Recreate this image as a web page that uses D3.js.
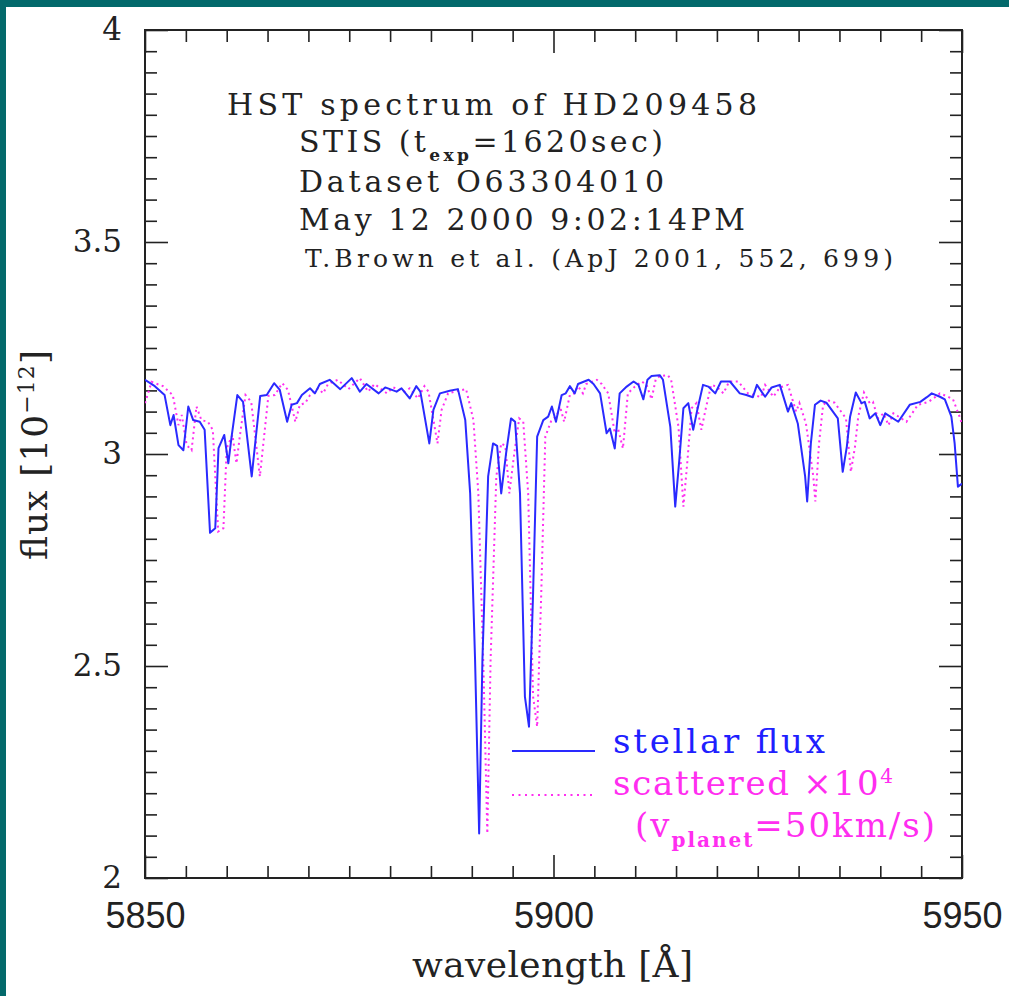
<!DOCTYPE html>
<html>
<head>
<meta charset="utf-8">
<script src="https://cdn.jsdelivr.net/npm/d3@7"></script>
<style>
	html, body { margin: 0; padding: 0; background: #03696b; }
	svg { display: block; }
</style>
</head>
<body>
<svg></svg>
<script>
// HST STIS spectrum of HD209458 around the Na D lines

// Axis ticks
const xMajor = [5850, 5900, 5950];
const xMinor = [5855, 5860, 5865, 5870, 5875, 5880, 5885, 5890, 5895, 5905, 5910, 5915, 5920, 5925, 5930, 5935, 5940, 5945];
const yMajor = [2, 2.5, 3, 3.5, 4];
const yTickLabels = ['2', '2.5', '3', '3.5', '4'];
const yMinor = [2.05, 2.1, 2.15, 2.2, 2.25, 2.3, 2.35, 2.4, 2.45, 2.55, 2.6, 2.65, 2.7, 2.75, 2.8, 2.85, 2.9, 2.95,
	3.05, 3.1, 3.15, 3.2, 3.25, 3.3, 3.35, 3.4, 3.45, 3.55, 3.6, 3.65, 3.7, 3.75, 3.8, 3.85, 3.9, 3.95];

// Stellar flux (blue solid line)
const stellarWave = [
	5850.0, 5851.2, 5852.4, 5853.1, 5853.5, 5854.1, 5854.7, 5855.3, 5855.9, 5856.7,
	5857.3, 5857.96, 5858.6, 5859.0, 5859.7, 5860.2, 5860.6, 5861.3, 5862.0, 5863.06,
	5864.1, 5864.9, 5865.8, 5866.5, 5867.4, 5867.95, 5868.6, 5869.2, 5870.2, 5870.8,
	5871.4, 5872.6, 5873.9, 5875.3, 5876.3, 5877.1, 5878.6, 5879.4, 5880.8, 5881.4,
	5882.4, 5883.2, 5883.7, 5884.8, 5885.3, 5886.1, 5887.3, 5888.3, 5889.2, 5889.8,
	5890.4, 5890.9, 5891.3, 5892.0, 5892.6, 5893.1, 5893.6, 5894.2, 5894.8, 5895.3,
	5895.9, 5896.5, 5897.0, 5897.5, 5898.0, 5898.75, 5899.35, 5899.8, 5900.3, 5901.0,
	5901.5, 5902.0, 5902.6, 5903.0, 5904.3, 5904.9, 5905.7, 5906.5, 5906.9, 5907.5,
	5908.1, 5908.96, 5909.8, 5910.4, 5911.0, 5911.5, 5912.0, 5913.0, 5913.4, 5914.3,
	5914.9, 5915.4, 5915.9, 5916.5, 5917.1, 5917.6, 5918.3, 5918.95, 5919.8, 5920.5,
	5921.6, 5922.8, 5923.6, 5924.4, 5924.9, 5925.9, 5926.7, 5927.7, 5928.7, 5929.1,
	5929.9, 5930.8, 5931.05, 5931.5, 5932.0, 5932.7, 5933.4, 5934.8, 5935.4, 5935.9,
	5936.3, 5937.0, 5937.7, 5938.1, 5938.7, 5939.4, 5940.0, 5940.6, 5942.2, 5943.6,
	5944.9, 5945.7, 5946.3, 5947.3, 5947.9, 5948.7, 5949.1, 5949.5, 5950.0
];
const stellarFlux = [
	3.175, 3.160, 3.139, 3.068, 3.092, 3.021, 3.009, 3.112, 3.080, 3.076,
	3.057, 2.814, 2.825, 3.014, 3.045, 2.978, 3.041, 3.139, 3.123, 2.947,
	3.137, 3.139, 3.167, 3.151, 3.076, 3.116, 3.120, 3.139, 3.155, 3.143,
	3.165, 3.175, 3.153, 3.179, 3.147, 3.165, 3.143, 3.157, 3.147, 3.155,
	3.131, 3.160, 3.147, 3.025, 3.104, 3.143, 3.149, 3.153, 3.080, 2.907,
	2.514, 2.105, 2.514, 2.947, 3.025, 3.019, 2.907, 3.002, 3.084, 3.076,
	2.907, 2.428, 2.357, 2.671, 3.041, 3.080, 3.088, 3.112, 3.076, 3.139,
	3.143, 3.160, 3.143, 3.165, 3.175, 3.165, 3.143, 3.049, 3.060, 3.013,
	3.143, 3.159, 3.171, 3.163, 3.129, 3.175, 3.184, 3.186, 3.175, 3.064,
	2.876, 2.986, 3.108, 3.120, 3.057, 3.104, 3.163, 3.159, 3.143, 3.171,
	3.171, 3.143, 3.139, 3.134, 3.163, 3.135, 3.157, 3.163, 3.100, 3.120,
	3.072, 2.947, 2.888, 3.025, 3.116, 3.126, 3.121, 3.084, 2.958, 3.017,
	3.088, 3.145, 3.120, 3.123, 3.084, 3.096, 3.068, 3.096, 3.076, 3.116,
	3.123, 3.134, 3.143, 3.135, 3.129, 3.088, 3.025, 2.923, 2.930
];

// Scattered light x10^4 (magenta dotted line), shifted by v_planet
const scatterWave = [
	5850.0, 5850.8, 5852.2, 5853.4, 5854.1, 5854.5, 5855.1, 5855.7, 5856.3, 5856.9,
	5857.7, 5858.3, 5858.96, 5859.6, 5860.0, 5860.7, 5861.2, 5861.6, 5862.3, 5863.0,
	5864.06, 5865.1, 5865.9, 5866.8, 5867.5, 5868.4, 5868.95, 5869.6, 5870.2, 5871.2,
	5871.8, 5872.4, 5873.6, 5874.9, 5876.3, 5877.3, 5878.1, 5879.6, 5880.4, 5881.8,
	5882.4, 5883.4, 5884.2, 5884.7, 5885.8, 5886.3, 5887.1, 5888.3, 5889.3, 5890.2,
	5890.8, 5891.4, 5891.9, 5892.3, 5893.0, 5893.6, 5894.1, 5894.6, 5895.2, 5895.8,
	5896.3, 5896.9, 5897.5, 5898.0, 5898.5, 5899.0, 5899.75, 5900.35, 5900.8, 5901.3,
	5902.0, 5902.5, 5903.0, 5903.6, 5904.0, 5905.3, 5905.9, 5906.7, 5907.5, 5907.9,
	5908.5, 5909.1, 5909.96, 5910.8, 5911.4, 5912.0, 5912.5, 5913.0, 5914.0, 5914.4,
	5915.3, 5915.9, 5916.4, 5916.9, 5917.5, 5918.1, 5918.6, 5919.3, 5919.95, 5920.8,
	5921.5, 5922.6, 5923.8, 5924.6, 5925.4, 5925.9, 5926.9, 5927.7, 5928.7, 5929.7,
	5930.1, 5930.9, 5931.8, 5932.05, 5932.5, 5933.0, 5933.7, 5934.4, 5935.8, 5936.4,
	5936.9, 5937.3, 5938.0, 5938.7, 5939.1, 5939.7, 5940.4, 5941.0, 5941.6, 5943.2,
	5944.6, 5945.9, 5946.7, 5947.3, 5948.3, 5948.9, 5949.7, 5950.0
];
const scatterFlux = [
	3.120, 3.170, 3.160, 3.139, 3.068, 3.092, 3.021, 3.009, 3.112, 3.080,
	3.076, 3.057, 2.817, 2.825, 3.014, 3.045, 2.978, 3.041, 3.139, 3.123,
	2.947, 3.137, 3.139, 3.167, 3.151, 3.076, 3.116, 3.120, 3.139, 3.155,
	3.143, 3.165, 3.175, 3.153, 3.179, 3.147, 3.165, 3.143, 3.157, 3.147,
	3.155, 3.131, 3.160, 3.147, 3.025, 3.104, 3.143, 3.149, 3.153, 3.080,
	2.907, 2.514, 2.105, 2.514, 2.947, 3.025, 3.019, 2.907, 3.002, 3.084,
	3.076, 2.907, 2.428, 2.357, 2.671, 3.041, 3.080, 3.088, 3.112, 3.076,
	3.139, 3.143, 3.160, 3.143, 3.165, 3.175, 3.165, 3.143, 3.049, 3.060,
	3.013, 3.143, 3.159, 3.171, 3.163, 3.129, 3.175, 3.184, 3.186, 3.175,
	3.064, 2.876, 2.986, 3.108, 3.120, 3.057, 3.104, 3.163, 3.159, 3.143,
	3.171, 3.171, 3.143, 3.139, 3.134, 3.163, 3.135, 3.157, 3.163, 3.100,
	3.120, 3.072, 2.947, 2.888, 3.025, 3.116, 3.126, 3.121, 3.084, 2.958,
	3.017, 3.088, 3.145, 3.120, 3.123, 3.084, 3.096, 3.068, 3.096, 3.076,
	3.116, 3.123, 3.134, 3.143, 3.135, 3.129, 3.088, 3.070
];

const width = 1009;
const height = 996;
const plot = { left: 145, right: 962, top: 30, bottom: 878 };

const blue = '#2a2aff';
const magenta = '#ff2ef0';
const serif = "'DejaVu Serif', serif";

const svg = d3.select('svg').attr('width', width).attr('height', height);

// teal frame on top and left, white page
svg.append('rect').attr('x', 6).attr('y', 7).attr('width', width - 6).attr('height', height - 7).attr('fill', '#fff');

const x = d3.scaleLinear().domain([5850, 5950]).range([plot.left, plot.right]);
const y = d3.scaleLinear().domain([2, 4]).range([plot.bottom, plot.top]);

svg.append('clipPath').attr('id', 'clip')
	.append('rect')
	.attr('x', plot.left).attr('y', plot.top)
	.attr('width', plot.right - plot.left).attr('height', plot.bottom - plot.top);

// ---------------- axes ----------------
function styleAxis(g) {
	g.select('.domain').remove();
	g.selectAll('.tick line').attr('stroke', '#222').attr('stroke-width', 1.6);
}

// x major ticks with labels
svg.append('g')
	.attr('transform', `translate(0,${plot.bottom})`)
	.call(d3.axisBottom(x).tickValues(xMajor).tickSize(-23).tickPadding(24).tickFormat(d3.format('d')))
	.call(styleAxis)
	.call((g) => g.selectAll('text')
		.attr('fill', '#222')
		.style('font-family', "'Liberation Sans', sans-serif")
		.style('font-size', '36px'));

svg.append('g')
	.attr('transform', `translate(0,${plot.bottom})`)
	.call(d3.axisBottom(x).tickValues(xMinor).tickSize(-12).tickFormat(''))
	.call(styleAxis);

svg.append('g')
	.attr('transform', `translate(0,${plot.top})`)
	.call(d3.axisTop(x).tickValues(xMajor).tickSize(-23).tickFormat(''))
	.call(styleAxis);

svg.append('g')
	.attr('transform', `translate(0,${plot.top})`)
	.call(d3.axisTop(x).tickValues(xMinor).tickSize(-12).tickFormat(''))
	.call(styleAxis);

// y major ticks with labels
svg.append('g')
	.attr('transform', `translate(${plot.left},0)`)
	.call(d3.axisLeft(y).tickValues(yMajor).tickSize(-23).tickPadding(23)
		.tickFormat((d, i) => yTickLabels[i]))
	.call(styleAxis)
	.call((g) => g.selectAll('text')
		.attr('fill', '#222')
		.style('font-family', serif)
		.style('font-size', '31px'));

svg.append('g')
	.attr('transform', `translate(${plot.left},0)`)
	.call(d3.axisLeft(y).tickValues(yMinor).tickSize(-12).tickFormat(''))
	.call(styleAxis);

svg.append('g')
	.attr('transform', `translate(${plot.right},0)`)
	.call(d3.axisRight(y).tickValues(yMajor).tickSize(-23).tickFormat(''))
	.call(styleAxis);

svg.append('g')
	.attr('transform', `translate(${plot.right},0)`)
	.call(d3.axisRight(y).tickValues(yMinor).tickSize(-12).tickFormat(''))
	.call(styleAxis);

// frame
svg.append('rect')
	.attr('x', plot.left).attr('y', plot.top)
	.attr('width', plot.right - plot.left).attr('height', plot.bottom - plot.top)
	.attr('fill', 'none').attr('stroke', '#222').attr('stroke-width', 2);

// ---------------- spectra ----------------
const lines = svg.append('g').attr('clip-path', 'url(#clip)');

const scatterLine = d3.line()
	.x((d, i) => x(scatterWave[i]))
	.y((d) => y(d));

const stellarLine = d3.line()
	.x((d, i) => x(stellarWave[i]))
	.y((d) => y(d));

lines.append('path')
	.datum(scatterFlux)
	.attr('d', scatterLine)
	.attr('fill', 'none')
	.attr('stroke', magenta)
	.attr('stroke-width', 2)
	.attr('stroke-dasharray', '2,3.5');

lines.append('path')
	.datum(stellarFlux)
	.attr('d', stellarLine)
	.attr('fill', 'none')
	.attr('stroke', blue)
	.attr('stroke-width', 2)
	.attr('stroke-linejoin', 'round');

// ---------------- axis titles ----------------
svg.append('text')
	.attr('x', 412).attr('y', 977)
	.attr('textLength', 281).attr('lengthAdjust', 'spacing')
	.attr('fill', '#222')
	.style('font-family', serif).style('font-size', '36px')
	.text('wavelength [Å]');

const ylab = svg.append('text')
	.attr('transform', 'translate(47,560) rotate(-90)')
	.attr('textLength', 210).attr('lengthAdjust', 'spacing')
	.attr('fill', '#222')
	.style('font-family', serif).style('font-size', '36px');
ylab.append('tspan').text('flux [10');
ylab.append('tspan').attr('dy', -13).style('font-size', '22px').text('−12');
ylab.append('tspan').attr('dy', 13).text(']');

// ---------------- annotation block ----------------
const note = svg.append('g').attr('fill', '#222').style('font-family', serif);

note.append('text').attr('x', 227).attr('y', 115)
	.attr('textLength', 530).attr('lengthAdjust', 'spacing')
	.style('font-size', '30px').text('HST spectrum of HD209458');

const stis = note.append('text').attr('x', 299).attr('y', 152)
	.attr('textLength', 364).attr('lengthAdjust', 'spacing')
	.style('font-size', '30px');
stis.append('tspan').text('STIS (t');
stis.append('tspan').attr('dy', 9).style('font-size', '17px').style('font-weight', 'bold').text('exp');
stis.append('tspan').attr('dy', -9).text('=1620sec)');

note.append('text').attr('x', 299).attr('y', 192)
	.attr('textLength', 365).attr('lengthAdjust', 'spacing')
	.style('font-size', '30px').text('Dataset O63304010');

note.append('text').attr('x', 299).attr('y', 230)
	.attr('textLength', 446).attr('lengthAdjust', 'spacing')
	.style('font-size', '30px').text('May 12 2000 9:02:14PM');

note.append('text').attr('x', 305).attr('y', 267)
	.attr('textLength', 588).attr('lengthAdjust', 'spacing')
	.style('font-size', '25px').text('T.Brown et al. (ApJ 2001, 552, 699)');

// ---------------- legend ----------------
const legend = svg.append('g').style('font-family', serif);

legend.append('line')
	.attr('x1', 512).attr('x2', 595).attr('y1', 751).attr('y2', 751)
	.attr('stroke', blue).attr('stroke-width', 2);

legend.append('text').attr('x', 613).attr('y', 753)
	.attr('textLength', 212).attr('lengthAdjust', 'spacing')
	.attr('fill', '#1f1fff').style('font-size', '34px')
	.text('stellar flux');

legend.append('line')
	.attr('x1', 512).attr('x2', 592).attr('y1', 795).attr('y2', 795)
	.attr('stroke', magenta).attr('stroke-width', 2).attr('stroke-dasharray', '2,4.5');

const sc = legend.append('text').attr('x', 613).attr('y', 795)
	.attr('textLength', 280).attr('lengthAdjust', 'spacing')
	.attr('fill', magenta).style('font-size', '34px');
sc.append('tspan').text('scattered ×10');
sc.append('tspan').attr('dy', -12).style('font-size', '20px').text('4');

const vp = legend.append('text').attr('x', 635).attr('y', 837)
	.attr('textLength', 300).attr('lengthAdjust', 'spacing')
	.attr('fill', magenta).style('font-size', '34px');
vp.append('tspan').text('(v');
vp.append('tspan').attr('dy', 10).style('font-size', '20px').style('font-weight', 'bold').text('planet');
vp.append('tspan').attr('dy', -10).text('=50km/s)');
</script>
</body>
</html>
